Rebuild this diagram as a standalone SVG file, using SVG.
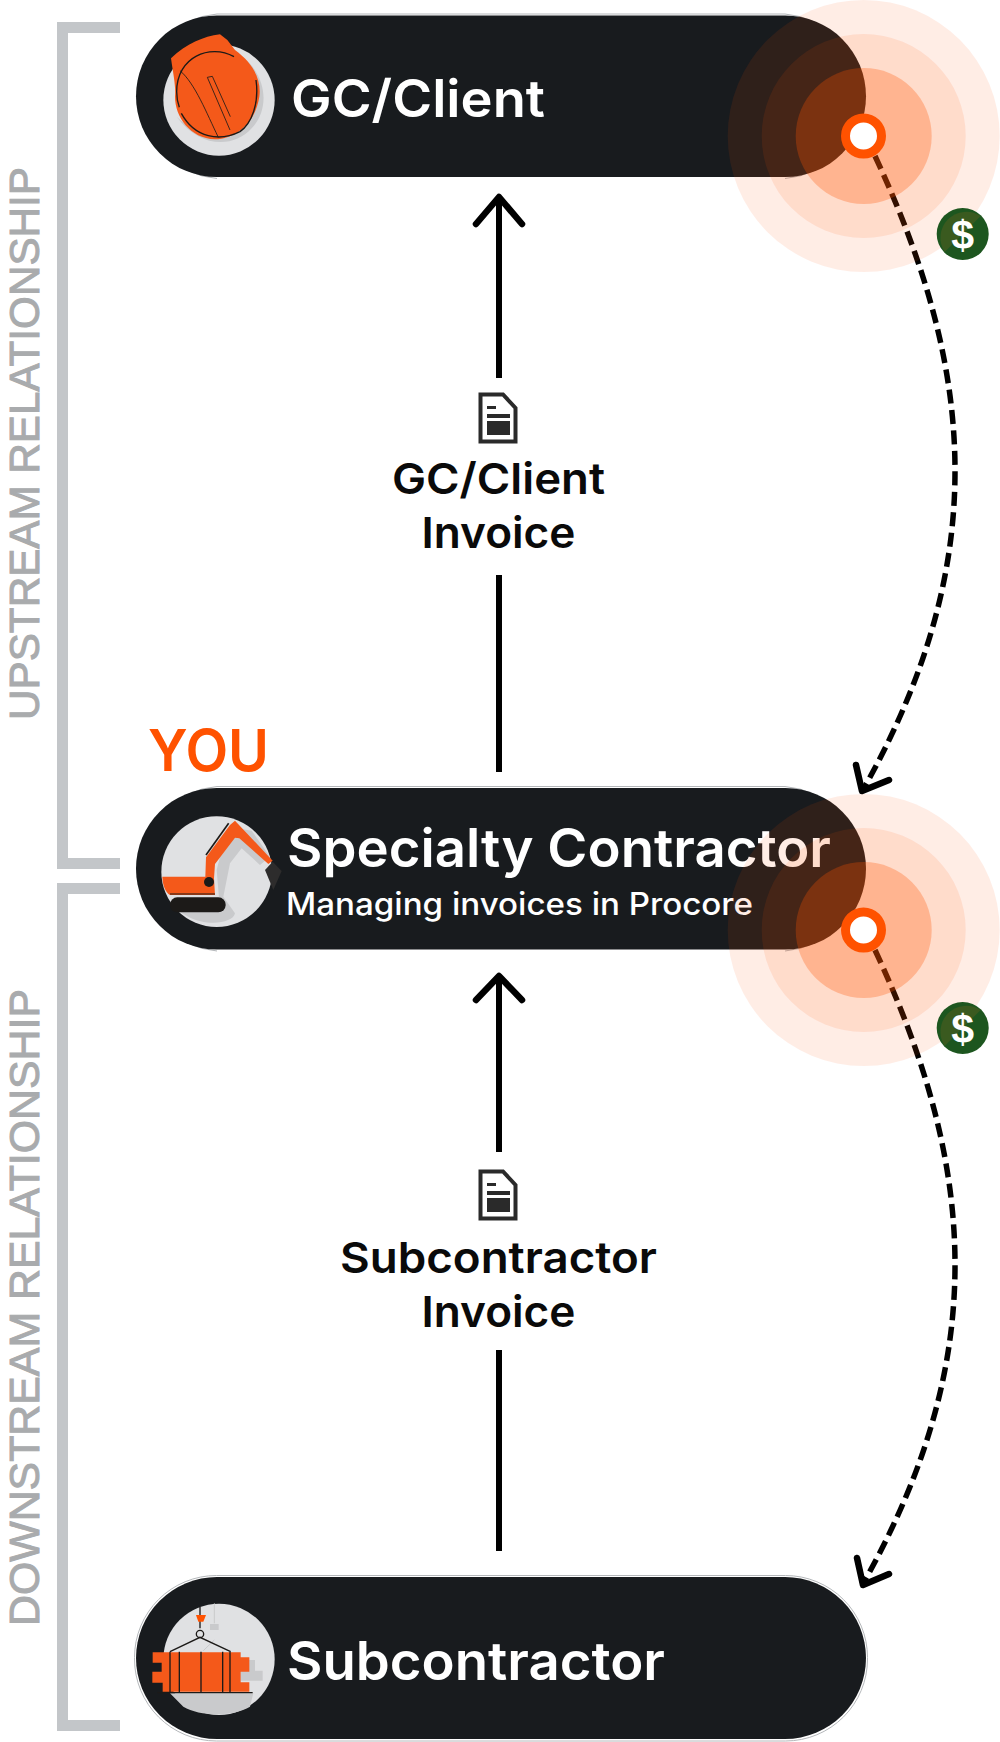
<svg xmlns="http://www.w3.org/2000/svg" width="1000" height="1742" viewBox="0 0 1000 1742">
<style>
.pill{fill:#181b1e}
.out{fill:none;stroke:#b4b7ba;stroke-width:1}
.t{font-family:Inter,"Liberation Sans",sans-serif;font-weight:600;fill:#fff}
.k{font-family:Inter,"Liberation Sans",sans-serif;font-weight:600;fill:#0a0a0a;text-anchor:middle}
.g{font-family:"Liberation Sans",Arial,sans-serif;fill:#a9abad;stroke:#a9abad;stroke-width:1;font-size:43px}
.br{fill:none;stroke:#c3c6c9;stroke-width:11}
.ln{fill:none;stroke:#000;stroke-width:6}
.ah{fill:none;stroke:#000;stroke-width:6.500;stroke-linecap:round;stroke-linejoin:round}
.ds{fill:none;stroke:#000;stroke-width:5.500;stroke-dasharray:14 6.500}
.r{fill:#ff5200}
.bg{fill:#e0e1e3}
.sh{fill:#c9cacc}
.or{fill:#f4591a}
.dk{fill:none;stroke:#1c1a18;stroke-width:4}
</style>
<defs>
<g id="ping">
<circle class="r" r="136" opacity=".1"/><circle class="r" r="102" opacity=".11"/><circle class="r" r="68" opacity=".29"/>
</g>
<g id="dot"><circle r="18" fill="#fff" stroke="#ff5200" stroke-width="9"/></g>
<g id="doc">
<path d="M1.500 1.500H24L36.500 15V48.500H1.500Z" fill="#fff" stroke="#2a2a2a" stroke-width="4"/>
<rect x="8" y="13" width="9" height="3" fill="#2a2a2a"/><rect x="8" y="21" width="23" height="4" fill="#2a2a2a"/><rect x="8" y="28" width="23" height="14" fill="#2a2a2a"/>
</g>
<g id="coin">
<circle r="26" fill="#1d561f"/><path d="M-18 18A26 26 0 0 1 18 -18Z" fill="#3a5a1f"/>
<text y="14.500" text-anchor="middle" font-family="Liberation Sans,sans-serif" font-weight="700" font-size="41" fill="#fff">$</text>
</g>
<path id="o2" class="out" d="M81 163A82.500 82.500 0 0 1 81 -1.500H649A82.500 82.500 0 0 1 649 163"/>
</defs>

<g id="upstream-label">
<path class="br" d="M120 27.500H62.500V863.500H120"/>
<text class="g" transform="translate(39 720) rotate(-90)" textLength="553" lengthAdjust="spacingAndGlyphs">UPSTREAM RELATIONSHIP</text>
</g>
<g id="downstream-label">
<path class="br" d="M120 888.500H62.500V1725.500H120"/>
<text class="g" transform="translate(39 1626) rotate(-90)" textLength="637" lengthAdjust="spacingAndGlyphs">DOWNSTREAM RELATIONSHIP</text>
</g>

<g id="node-gc-client">
<g transform="translate(136 15.500)"><use href="#o2"/><rect class="pill" width="730" height="161.500" rx="80.750"/></g>
<g transform="translate(120 0) scale(.33333)">
<circle class="bg" cx="297" cy="300" r="167"/>
<path class="sh" d="M380 180C450 250 440 340 395 385C340 445 240 445 170 350C240 420 340 410 395 340C420 290 410 220 380 180Z"/>
<path class="or" d="M153 175C200 130 250 110 300 103L322 120L345 150C400 190 425 240 418 290C405 370 350 415 285 418C210 415 165 350 165 290C168 260 160 225 153 175Z"/>
<path class="dk" d="M342 170C270 130 170 170 170 275C170 290 172 305 178 322M184 340C225 415 300 425 360 395C395 370 418 310 408 240"/>
<path class="dk" style="stroke-width:2.500" d="M180 212C225 250 260 340 295 412M262 232L277 229L331 350M262 232L330 390"/>
</g>
<text class="t" x="291" y="117" font-size="52" textLength="254" lengthAdjust="spacingAndGlyphs">GC/Client</text>
</g>

<g id="node-specialty-contractor">
<text x="148" y="771" font-family="Inter,'Liberation Sans',sans-serif" font-weight="600" font-size="58" fill="#ff5200" textLength="121" lengthAdjust="spacingAndGlyphs">YOU</text>
<g transform="translate(136 788)"><use href="#o2"/><rect class="pill" width="730" height="161.500" rx="80.750"/></g>
<g transform="translate(120 710) scale(.33333)">
<circle class="bg" cx="290" cy="485" r="166"/>
<path class="sh" d="M350 355L395 362L450 440L420 465L365 415L330 460L310 560L345 610C340 640 260 650 205 620L170 600H300L290 480L300 440Z"/>
<path d="M258 435L326 340" stroke="#1c1a18" stroke-width="5" fill="none"/>
<path class="or" d="M127 500H256L258 442L330 345L345 332L458 452L445 462L358 385L345 383L285 462L282 505L285 555H150C135 545 128 525 127 500Z"/>
<path d="M150 552H285" stroke="#1c1a18" stroke-width="3"/>
<circle cx="267" cy="516" r="15" fill="#1c1a18"/>
<rect x="150" y="562" width="167" height="45" rx="22" fill="#1c1a18"/>
<path d="M458 455L485 483L460 540L435 480Z" fill="#2d2c2c"/>
</g>
<text class="t" x="287" y="867" font-size="53" textLength="544" lengthAdjust="spacingAndGlyphs">Specialty Contractor</text>
<text class="t" style="font-weight:500" x="286" y="915" font-size="31" textLength="467" lengthAdjust="spacingAndGlyphs">Managing invoices in Procore</text>
</g>

<g id="node-subcontractor">
<g transform="translate(136 1577)"><rect class="out" x="-1.500" y="-1.500" width="733" height="165.500" rx="82"/><rect class="pill" width="730" height="162" rx="81"/></g>
<g transform="translate(120 1560) scale(.33333)">
<circle class="bg" cx="297" cy="298" r="167"/>
<path class="sh" d="M150 400H400L390 440C340 470 240 470 190 440ZM340 300H405V332H428V362H362V335H340Z"/>
<path d="M283 130V190M283 240L250 272" stroke="#c9cacc" stroke-width="3" fill="none"/>
<rect x="270" y="192" width="26" height="18" fill="#c9cacc"/>
<path class="or" d="M98 277H362V292H388V335H362V367H388V395H128V368H97V335H125V308H98Z"/>
<path d="M240 140V205M150 275L240 232L332 275M150 275V397M178 275V397M243 275V397M308 275V397M330 275V397M112 398H398" stroke="#1c1a18" stroke-width="4" fill="none"/>
<circle cx="240" cy="222" r="11" fill="none" stroke="#1c1a18" stroke-width="4"/>
<path d="M228 165H258L250 185H235Z" fill="#ff5200"/>
</g>
<text class="t" x="287" y="1679.500" font-size="53" textLength="378" lengthAdjust="spacingAndGlyphs">Subcontractor</text>
</g>

<g id="connectors">
<path class="ln" d="M499 198V378M499 575V772M499 978V1152M499 1350V1551"/>
<path class="ah" d="M476 224L499 197L522 224M476 1000L499 976L522 1000"/>
<path class="ds" d="M875 156C975 370 992 560 864 788"/>
<path class="ds" d="M875 950C975 1164 992 1354 864 1582"/>
<path class="ah" d="M856 765L862 791L889 780M857 1558L863 1585L889 1574"/>
</g>

<g id="invoice-labels">
<use href="#doc" x="479" y="393"/>
<text class="k" x="498.500" y="494" font-size="43" textLength="213" lengthAdjust="spacingAndGlyphs">GC/Client</text>
<text class="k" x="498.500" y="548" font-size="43" textLength="154" lengthAdjust="spacingAndGlyphs">Invoice</text>
<use href="#doc" x="479" y="1170"/>
<text class="k" x="498.500" y="1272.500" font-size="43" textLength="317" lengthAdjust="spacingAndGlyphs">Subcontractor</text>
<text class="k" x="498.500" y="1327" font-size="43" textLength="154" lengthAdjust="spacingAndGlyphs">Invoice</text>
</g>

<g id="payment-1"><use href="#ping" x="863.700" y="136"/><use href="#dot" x="863.500" y="136"/><use href="#coin" x="962.700" y="234"/></g>
<g id="payment-2"><use href="#ping" x="863.700" y="930"/><use href="#dot" x="863.500" y="930"/><use href="#coin" x="962.700" y="1028"/></g>
</svg>
